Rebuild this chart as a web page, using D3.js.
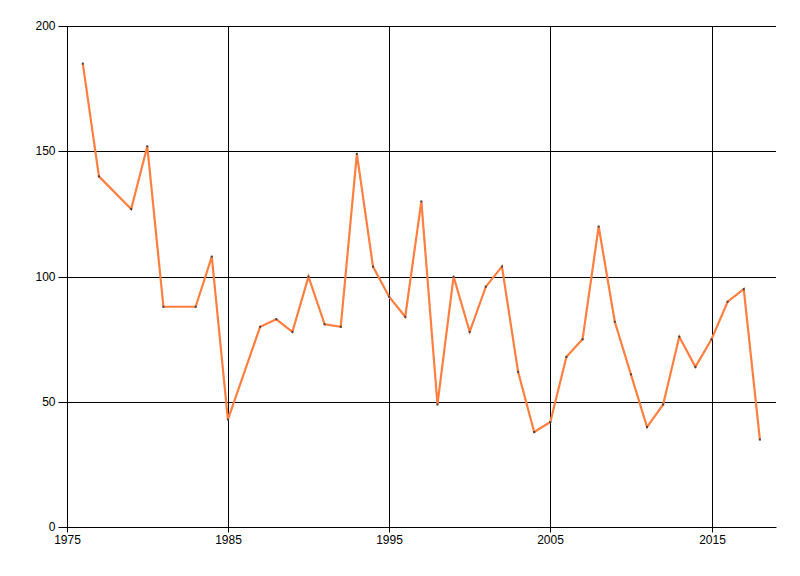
<!DOCTYPE html>
<html>
<head>
<meta charset="utf-8">
<script src="https://cdn.jsdelivr.net/npm/d3@7"></script>
<style>
  html, body { margin: 0; padding: 0; background: #fff; }
  svg { display: block; }
  .tick text { font-family: "Liberation Sans", Arial, sans-serif; font-size: 12px; fill: #000; }
</style>
</head>
<body>
<svg id="chart" width="800" height="576"></svg>
<script>
const years = [1976,1977,1979,1980,1981,1983,1984,1985,1987,1988,1989,1990,1991,1992,1993,1994,1995,1996,1997,1998,1999,2000,2001,2002,2003,2004,2005,2006,2007,2008,2009,2010,2011,2012,2013,2014,2015,2016,2017,2018];
const values = [185,140,127,152,88,88,108,43,80,83,78,100,81,80,149,104,92,84,130,49,100,78,96,104,62,38,42,68,75,120,82,61,40,49,76,64,75,90,95,35];
const xTicks = [1975,1985,1995,2005,2015];
const yTicks = [0,50,100,150,200];

(function () {
const data = years.map((yr, i) => ({ year: yr, value: values[i] }));

const svg = d3.select("#chart");
const pLeft = 66.7, pRight = 776, pTop = 26, pBottom = 527.3;

const x = d3.scaleLinear().domain([1975, 2019]).range([pLeft, pRight]);
const y = d3.scaleLinear().domain([0, 200]).range([pBottom, pTop]);

// gridlines
const grid = svg.append("g");
grid.selectAll(".hg").data(yTicks.filter(d => d > 0)).enter().append("line")
  .attr("x1", pLeft).attr("x2", pRight)
  .attr("y1", d => Math.round(y(d)) + 0.5).attr("y2", d => Math.round(y(d)) + 0.5)
  .attr("stroke", "#000").attr("stroke-width", 1);
grid.selectAll(".vg").data(xTicks.filter(d => d > 1975)).enter().append("line")
  .attr("y1", pTop).attr("y2", pBottom)
  .attr("x1", d => Math.round(x(d)) + 0.5).attr("x2", d => Math.round(x(d)) + 0.5)
  .attr("stroke", "#000").attr("stroke-width", 1);

// axes
const yAxis = d3.axisLeft(y).tickValues(yTicks).tickSize(9).tickPadding(3).tickFormat(d3.format("d"));
const gy = svg.append("g").attr("transform", `translate(${Math.round(pLeft)+0.5},0.5)`).call(yAxis);
gy.select(".domain").attr("d", `M0,${pTop}V${pBottom}`).attr("stroke", "#000");
gy.selectAll(".tick line").attr("stroke", "#000");
gy.selectAll(".tick").attr("transform", d => `translate(0,${Math.round(y(d))})`);

const xAxis = d3.axisBottom(x).tickValues(xTicks).tickSize(5).tickPadding(3).tickFormat(d3.format("d"));
const gx = svg.append("g").attr("transform", `translate(0.5,${Math.round(pBottom)+0.5})`).call(xAxis);
gx.select(".domain").attr("d", `M${pLeft},0H${pRight}`).attr("stroke", "#000");
gx.selectAll(".tick line").attr("stroke", "#000");
gx.selectAll(".tick").attr("transform", d => `translate(${Math.round(x(d))},0)`);

// line
const line = d3.line().x(d => x(d.year)).y(d => y(d.value));
svg.append("path").datum(data)
  .attr("fill", "none").attr("stroke", "#ff7f41").attr("stroke-width", 2.2)
  .attr("stroke-linejoin", "miter").attr("d", line);

// markers
svg.selectAll(".pt").data(data).enter().append("rect")
  .attr("x", d => x(d.year) - 1).attr("y", d => y(d.value) - 1)
  .attr("width", 2).attr("height", 2).attr("fill", "#4a4040");
})();
</script>
</body>
</html>
